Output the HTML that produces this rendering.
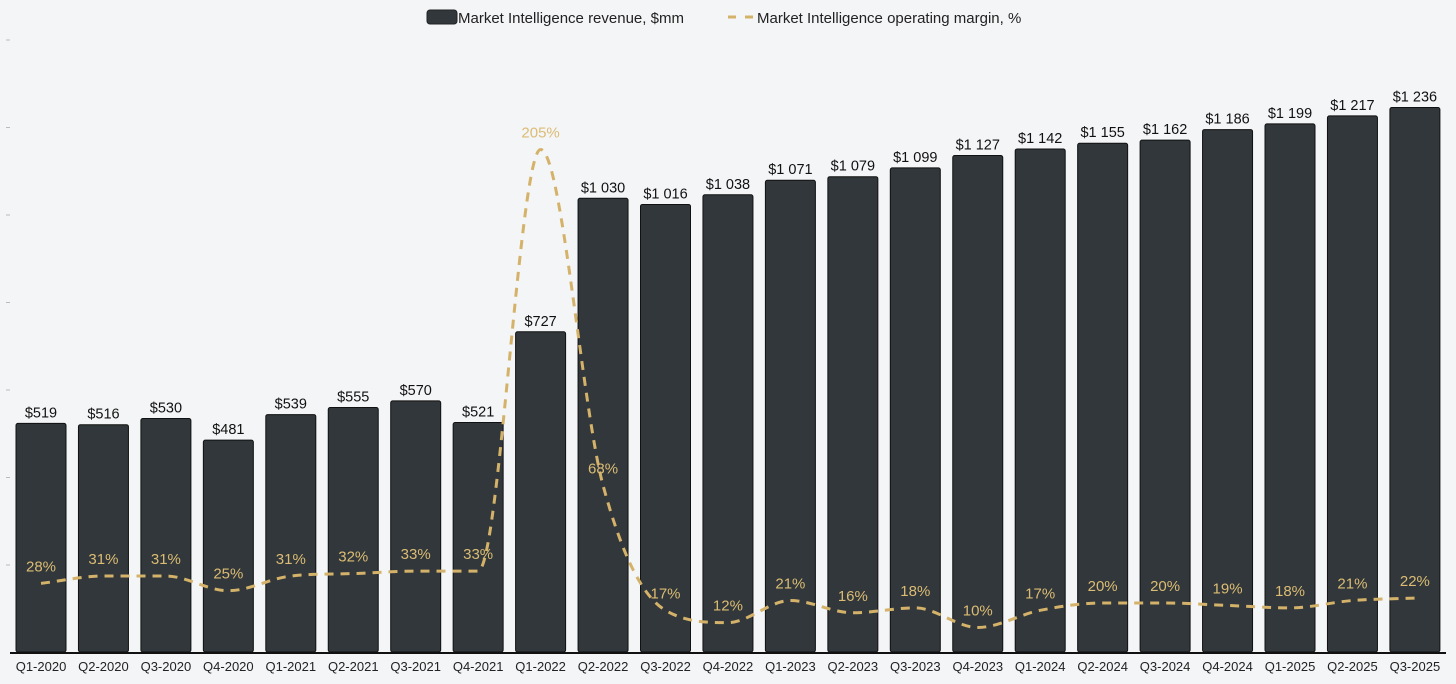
<!DOCTYPE html>
<html><head><meta charset="utf-8"><style>
html,body{margin:0;padding:0;background:#f4f5f7;}
svg{display:block;font-family:"Liberation Sans",Arial,sans-serif;}
</style></head><body>
<svg id="chart" width="1456" height="684">
<g>
<rect x="427" y="10" width="30" height="14" rx="3" fill="#31373a" stroke="#222"/>
<text x="458" y="23" font-size="15" fill="#222">Market Intelligence revenue, $mm</text>
<line x1="728" y1="17" x2="756" y2="17" stroke="#d4b26a" stroke-width="3" stroke-dasharray="8,9"/>
<text x="757" y="23" font-size="15" fill="#222">Market Intelligence operating margin, %</text>
</g>
<g id="ticks"></g><g id="bars"></g><g id="line"></g>
</svg>
<script>
const categories=["Q1-2020","Q2-2020","Q3-2020","Q4-2020","Q1-2021","Q2-2021","Q3-2021","Q4-2021","Q1-2022","Q2-2022","Q3-2022","Q4-2022","Q1-2023","Q2-2023","Q3-2023","Q4-2023","Q1-2024","Q2-2024","Q3-2024","Q4-2024","Q1-2025","Q2-2025","Q3-2025"];
const revenue=[519,516,530,481,539,555,570,521,727,1030,1016,1038,1071,1079,1099,1127,1142,1155,1162,1186,1199,1217,1236];
const revenueLabels=["$519","$516","$530","$481","$539","$555","$570","$521","$727","$1 030","$1 016","$1 038","$1 071","$1 079","$1 099","$1 127","$1 142","$1 155","$1 162","$1 186","$1 199","$1 217","$1 236"];
const margin=[28,31,31,25,31,32,33,33,205,68,17,12,21,16,18,10,17,20,20,19,18,21,22];
const ns="http://www.w3.org/2000/svg";
const base=652, pitch=62.45, x0=16, bw=50;
const xBand=i=>x0+i*pitch;
const xMid=i=>xBand(i)+bw/2;
const yRev=v=>base-v*0.4405;
const yMar=v=>base-v*2.451;
function mk(t,a,p){const e=document.createElementNS(ns,t);for(const k in a)e.setAttribute(k,a[k]);p.appendChild(e);return e;}
const tg=document.getElementById('ticks');
for(let k=0;k<7;k++){const l=mk('line',{x1:6,x2:10,y1:40+k*87.5,y2:40+k*87.5,stroke:'#bbb'},tg);

}
const bg=document.getElementById('bars');
categories.forEach((c,i)=>{
 const r=mk('rect',{x:xBand(i),y:yRev(revenue[i]),width:bw,height:base-yRev(revenue[i]),rx:2,fill:'#31373a',stroke:'#111','stroke-width':1},bg);
 
 
 const t=mk('text',{x:xMid(i),y:yRev(revenue[i])-6,'text-anchor':'middle','font-size':14.5,fill:'#111'},bg);t.textContent=revenueLabels[i];
 
 
 const xl=mk('text',{x:xMid(i),y:671,'text-anchor':'middle','font-size':13,fill:'#222'},bg);xl.textContent=c;
 
 
});
const ax=mk('line',{x1:10,x2:1446,y1:base+1,y2:base+1,stroke:'#111','stroke-width':2},bg);


const lg=document.getElementById('line');
const pts=margin.map((m,i)=>[xMid(i),yMar(m)]);
// monotone cubic
const n=pts.length,dx=pitch,sl=[],tg2=[];
for(let i=0;i<n-1;i++)sl.push((pts[i+1][1]-pts[i][1])/dx);
for(let i=0;i<n;i++){
 if(i===0)tg2.push(sl[0]);else if(i===n-1)tg2.push(sl[n-2]);
 else{const a=sl[i-1],b=sl[i];tg2.push(a*b<=0?0:(a+b)/2);}
}
for(let i=0;i<n-1;i++){if(sl[i]===0){tg2[i]=0;tg2[i+1]=0;continue;}
 const a=tg2[i]/sl[i],b=tg2[i+1]/sl[i],s=a*a+b*b;if(s>9){const t=3/Math.sqrt(s);tg2[i]=t*a*sl[i];tg2[i+1]=t*b*sl[i];}}
let d='M'+pts[0][0]+','+pts[0][1];
for(let i=0;i<n-1;i++){
 const h=dx/3;
 d+=` C${pts[i][0]+h},${pts[i][1]+tg2[i]*h} ${pts[i+1][0]-h},${pts[i+1][1]-tg2[i+1]*h} ${pts[i+1][0]},${pts[i+1][1]}`;
}
const path=mk('path',{d:d,fill:'none',stroke:'#d4b26a','stroke-width':3,'stroke-dasharray':'9,7'},lg);


margin.forEach((m,i)=>{
 const t=mk('text',{x:xMid(i),y:yMar(m)-12,'text-anchor':'middle','font-size':15,fill:'#dcbc74'},lg);t.textContent=m+'%';
 
 
});
</script>
</body></html>
